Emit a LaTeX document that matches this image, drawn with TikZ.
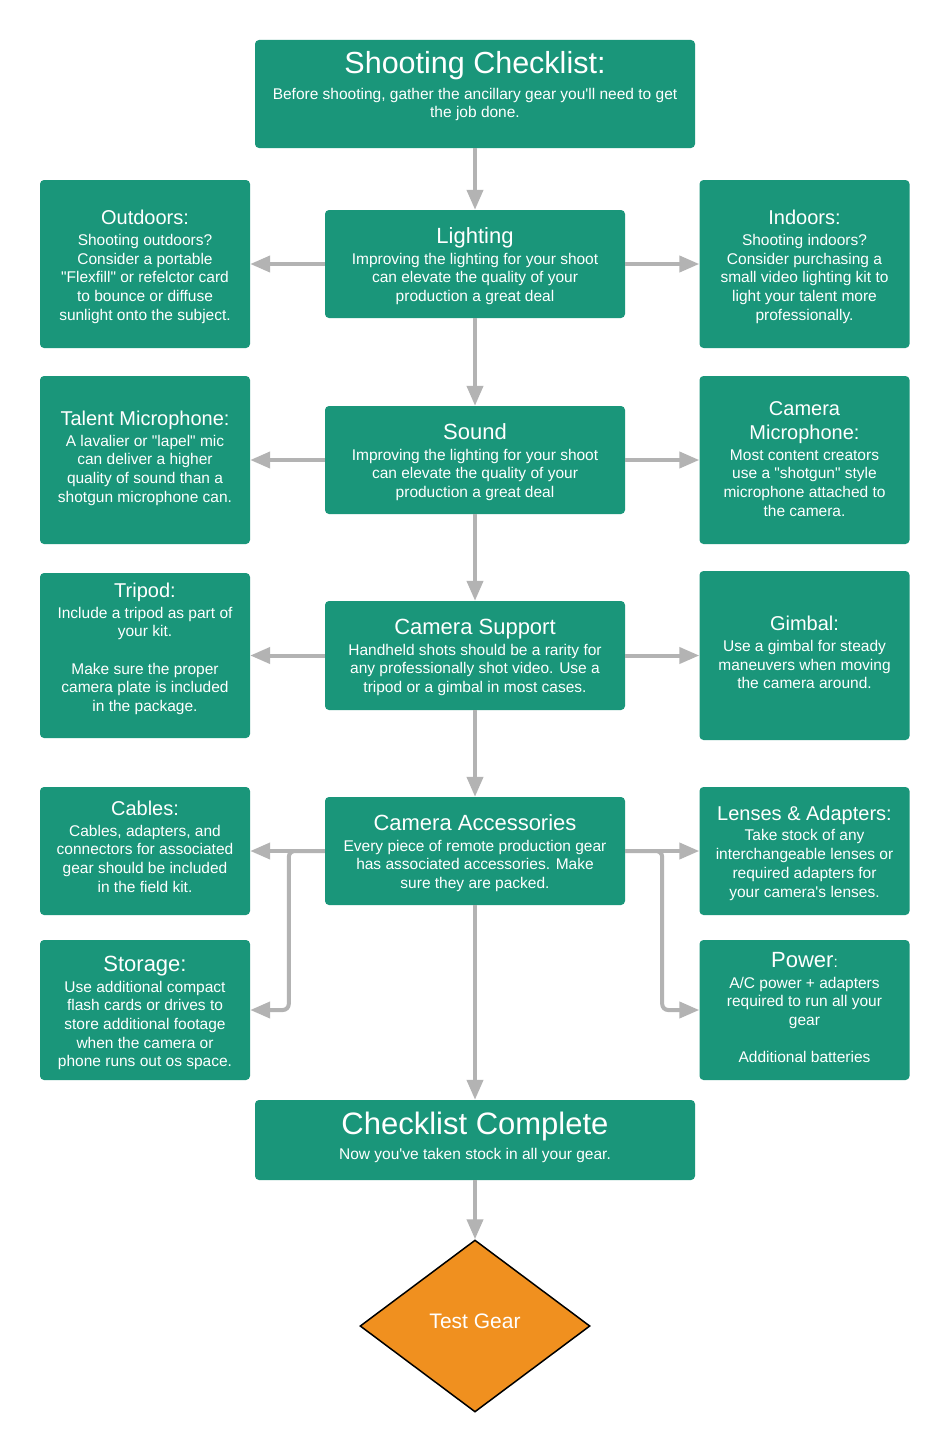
\documentclass[tikz,border=0pt]{standalone}
\usepackage{fontspec}
\newfontfamily\lsans{Liberation Sans}
\usetikzlibrary{arrows.meta,shapes.geometric}
\definecolor{boxteal}{HTML}{1A967A}
\definecolor{arrgray}{HTML}{B3B3B3}
\definecolor{gearorange}{HTML}{F0901F}
\newcommand\bigttl[1]{{\fontsize{30.5}{34}\selectfont #1}}
\newcommand\midttl[1]{{\fontsize{22}{24}\selectfont #1}}
\newcommand\smttl[1]{{\fontsize{20}{24}\selectfont #1}}
% #1 box name, #2 downward shift, #3 text
\newcommand\boxtext[3]{\node[txt] (#1-t) at ([yshift=-#2]#1.center) {#3};}
\begin{document}
\begin{tikzpicture}[x=1pt,y=-1pt,
  box/.style={fill=boxteal, rounded corners=4pt, inner sep=0pt},
  txt/.style={text=white, align=center, font=\lsans\fontsize{15.5}{18.7}\selectfont, inner sep=0pt},
  cbox/.style={box, minimum width=300pt, minimum height=108pt},
  sbox/.style={box, minimum width=210pt},
  arr/.style={draw=arrgray, line width=4pt, -{Triangle[length=20pt,width=16pt]}}]
\fill[white] (0,0) rectangle (951,1453);
\useasboundingbox (0,0) rectangle (951,1453);

\node[box, minimum width=440pt, minimum height=108pt] (top) at (475,94) {};
\boxtext{top}{0pt}{\bigttl{Shooting Checklist:}\\[7pt]Before shooting, gather the ancillary gear you'll need to get\\the job done.\\\mbox{}}

\node[cbox] (light) at (475,264) {};
\boxtext{light}{2pt}{\midttl{Lighting}\\[2pt]Improving the lighting for your shoot\\can elevate the quality of your\\production a great deal}
\node[sbox, minimum height=168pt] (outd) at (145,264) {};
\boxtext{outd}{3pt}{\smttl{Outdoors:}\\[2pt]Shooting outdoors?\\Consider a portable\\"Flexfill" or refelctor card\\to bounce or diffuse\\sunlight onto the subject.}
\node[sbox, minimum height=168pt] (indo) at (804.5,264) {};
\boxtext{indo}{3pt}{\smttl{Indoors:}\\[2pt]Shooting indoors?\\Consider purchasing a\\small video lighting kit to\\light your talent more\\professionally.}

\node[cbox] (sound) at (475,460) {};
\boxtext{sound}{2pt}{\midttl{Sound}\\[2pt]Improving the lighting for your shoot\\can elevate the quality of your\\production a great deal}
\node[sbox, minimum height=168pt] (talent) at (145,460) {};
\boxtext{talent}{3pt}{\smttl{Talent Microphone:}\\[2pt]A lavalier or "lapel" mic\\can deliver a higher\\quality of sound than a\\shotgun microphone can.\\[-6pt]\mbox{}}
\node[sbox, minimum height=168pt] (cammic) at (804.5,460) {};
\boxtext{cammic}{-1pt}{\smttl{Camera}\\[5pt]\smttl{Microphone:}\\[2pt]Most content creators\\use a "shotgun" style\\microphone attached to\\the camera.}

\node[cbox, minimum height=109pt] (support) at (475,655.5) {};
\boxtext{support}{2pt}{\midttl{Camera Support}\\[2pt]Handheld shots should be a rarity for\\any professionally shot video. Use a\\tripod or a gimbal in most cases.}
\node[sbox, minimum height=165pt] (tripod) at (145,655.5) {};
\boxtext{tripod}{1pt}{\smttl{Tripod:}\\[2pt]Include a tripod as part of\\your kit.\\\mbox{}\\Make sure the proper\\camera plate is included\\in the package.\\\mbox{}}
\node[sbox, minimum height=169pt] (gimbal) at (804.5,655.5) {};
\boxtext{gimbal}{1.5pt}{\smttl{Gimbal:}\\[2pt]Use a gimbal for steady\\maneuvers when moving\\the camera around.\\[-10pt]\mbox{}}

\node[cbox] (acc) at (475,851) {};
\boxtext{acc}{2pt}{\midttl{Camera Accessories}\\[2pt]Every piece of remote production gear\\has associated accessories. Make\\sure they are packed.}
\node[sbox, minimum height=128pt] (cables) at (145,851) {};
\boxtext{cables}{1pt}{\smttl{Cables:}\\[2pt]Cables, adapters, and\\connectors for associated\\gear should be included\\in the field kit.\\[-8pt]\mbox{}}
\node[sbox, minimum height=128pt] (lenses) at (804.5,851) {};
\boxtext{lenses}{2pt}{\smttl{Lenses \& Adapters:}\\[2pt]Take stock of any\\interchangeable lenses or\\required adapters for\\your camera's lenses.}

\node[sbox, minimum height=140pt] (storage) at (145,1010) {};
\boxtext{storage}{3pt}{\midttl{Storage:}\\[2pt]Use additional compact\\flash cards or drives to\\store additional footage\\when the camera or\\phone runs out os space.}
\node[sbox, minimum height=140pt] (power) at (804.5,1010) {};
\boxtext{power}{3pt}{\midttl{Power}:\\[2pt]A/C power + adapters\\required to run all your\\gear\\\mbox{}\\Additional batteries\\[-8pt]\mbox{}}

\node[box, minimum width=440pt, minimum height=80pt] (complete) at (475,1140) {};
\boxtext{complete}{-2.5pt}{\fontsize{31}{34}\selectfont Checklist Complete\\[7pt]{\fontsize{15.5}{18.7}\selectfont Now you've taken stock in all your gear.}}

\node[diamond, draw=black, line width=1.5pt, fill=gearorange, minimum width=230pt,
  minimum height=172pt, inner sep=0pt] (test) at (475,1326) {};
\node[txt, font=\lsans\fontsize{21}{24}\selectfont] (test-t) at ([yshift=5pt]test.center) {Test Gear};

\draw[arr] (top) -- (light);
\draw[arr] (light.west) -- (outd.east);
\draw[arr] (light.east) -- (indo.west);
\draw[arr] (light) -- (sound);
\draw[arr] (sound.west) -- (talent.east);
\draw[arr] (sound.east) -- (cammic.west);
\draw[arr] (sound) -- (support);
\draw[arr] (support.west) -- (tripod.east);
\draw[arr] (support.east) -- (gimbal.west);
\draw[arr] (support) -- (acc);
\draw[arr] (acc.west) -- (cables.east);
\draw[arr] (acc.east) -- (lenses.west);
\draw[arr, rounded corners=6pt] (acc.west) -- ++(-36,0) |- (storage.east);
\draw[arr, rounded corners=6pt] (acc.east) -- ++(37,0) |- (power.west);
\draw[arr] (acc) -- (complete);
\draw[arr] (complete) -- (test);
\end{tikzpicture}
\end{document}
